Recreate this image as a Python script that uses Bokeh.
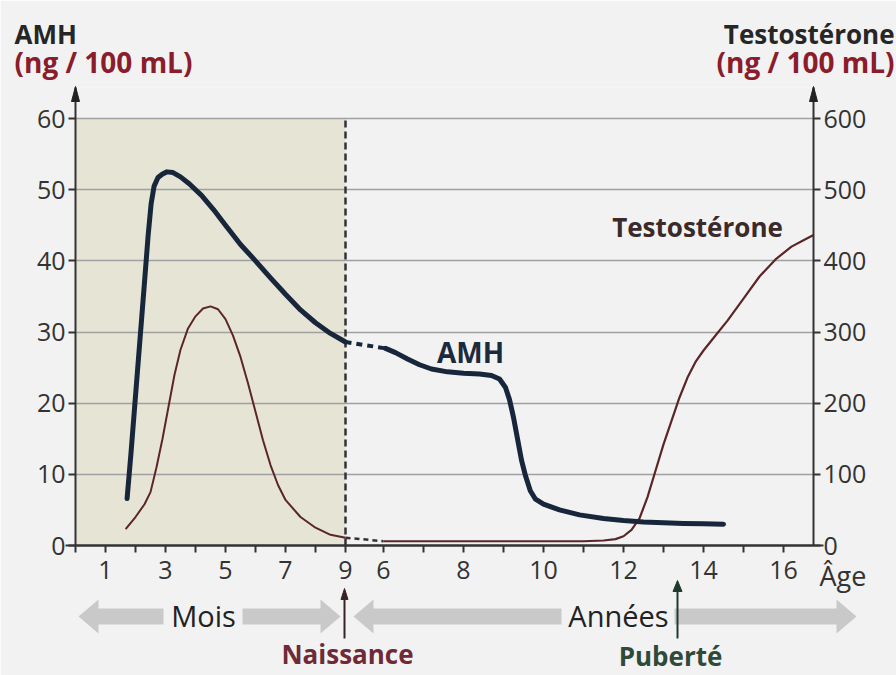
from bokeh.plotting import figure
from bokeh.models import LinearAxis, Range1d, FixedTicker, BoxAnnotation, Grid
from bokeh.core.properties import value
from bokeh.embed import file_html
from bokeh.resources import INLINE

# ---------------- data ----------------
# AMH (ng/100 mL), first months of life
amh_m_age = [1.72, 1.85, 2.0, 2.15, 2.3, 2.42, 2.52, 2.62, 2.75, 2.9, 3.05, 3.25,
             3.5, 3.8, 4.2, 4.6, 5.0, 5.5, 6.0, 6.5, 7.0, 7.5, 8.0, 8.5, 9.0]
amh_m_val = [6.6, 13.0, 21.0, 29.0, 37.0, 43.5, 48.0, 50.5, 51.7, 52.2, 52.5, 52.4,
             51.8, 50.8, 49.2, 47.2, 45.0, 42.3, 40.0, 37.6, 35.3, 33.1, 31.3, 29.8, 28.6]
# Testosterone (ng/100 mL), first months
t_m_age = [1.67, 2.0, 2.3, 2.5, 2.7, 2.9, 3.1, 3.3, 3.5, 3.75, 4.0, 4.25, 4.5, 4.75,
           5.0, 5.25, 5.5, 5.75, 6.0, 6.25, 6.5, 6.75, 7.0, 7.5, 8.0, 8.5, 9.0]
t_m_val = [23, 40, 58, 75, 110, 150, 195, 240, 275, 305, 322, 333, 336, 332,
           318, 295, 265, 228, 188, 148, 113, 85, 64, 40, 25, 15, 11]
# AMH, years
amh_y_age = [6.05, 6.3, 6.6, 6.9, 7.2, 7.6, 8.0, 8.4, 8.7, 8.9, 9.05, 9.15, 9.25, 9.35,
             9.45, 9.55, 9.67, 9.8, 10.0, 10.4, 10.9, 11.5, 12.0, 12.5, 13.0, 13.5, 14.0, 14.5]
amh_y_val = [27.7, 27.1, 26.2, 25.4, 24.8, 24.4, 24.2, 24.1, 23.9, 23.4, 22.2, 20.5, 18.0, 15.0,
             12.0, 9.8, 7.7, 6.5, 5.8, 5.0, 4.3, 3.8, 3.5, 3.3, 3.2, 3.1, 3.05, 3.0]
# Testosterone, years
t_y_age = [6.0, 7.0, 8.0, 9.0, 10.0, 11.0, 11.5, 11.8, 12.0, 12.2, 12.4, 12.6, 12.8, 13.0,
           13.2, 13.4, 13.6, 13.8, 14.0, 14.3, 14.6, 15.0, 15.4, 15.8, 16.2, 16.5, 16.78]
t_y_val = [6, 6, 6, 6, 6, 6, 7, 9, 13, 22, 38, 68, 105, 142,
           175, 208, 236, 258, 274, 295, 316, 347, 378, 402, 420, 429, 437]

month_ticks = [0, 1, 2, 3, 4, 5, 6, 7, 8, 9]
month_labels = ["", "1", "", "3", "", "5", "", "7", "", "9"]
year_ticks = [6, 7, 8, 9, 10, 11, 12, 13, 14, 15, 16]
year_labels = ["6", "", "8", "", "10", "", "12", "", "14", "", "16"]
amh_ticks = [0, 10, 20, 30, 40, 50, 60]
t_ticks = [0, 100, 200, 300, 400, 500, 600]

# ------------- scale helpers (broken age axis: months then years) -------------
MPX = 30.0   # px per month
YPX = 40.0   # px per year
Y6 = 308.0   # position of 6 years
def xm(m):
    return m * MPX
def xy(y):
    return Y6 + (y - 6) * YPX
PXV = (545 - 118) / 60.0   # px per AMH unit
def py(pix):   # page pixel row -> AMH value
    return (545 - pix) / PXV
def px(pix):   # page pixel column -> x position
    return pix - 75

FONT = "Open Sans"
BG = "#f2f2f2"
XR = 738
YTOP = 458 / PXV

p = figure(width=896, height=675, output_backend="svg", toolbar_location=None,
           x_range=Range1d(0, XR), y_range=Range1d(0, YTOP),
           min_border_left=75, min_border_right=83, min_border_top=87,
           min_border_bottom=130, background_fill_color=BG, border_fill_color=BG,
           outline_line_color=None, x_axis_location=None, y_axis_location=None)
p.extra_y_ranges = {"T": Range1d(0, YTOP * 10)}
p.xgrid.visible = False
p.ygrid.visible = False

# shaded prenatal/neonatal region
p.add_layout(BoxAnnotation(left=xm(0), right=xm(9), bottom=0, top=60,
                           fill_color="#e6e4d5", fill_alpha=1, line_color=None,
                           level="image"))

# axes
xt = [xm(m) for m in month_ticks] + [xy(y) for y in year_ticks]
xl = month_labels + year_labels
xaxis = LinearAxis(ticker=FixedTicker(ticks=xt),
                   major_label_overrides={t: l for t, l in zip(xt, xl)})
yaxis = LinearAxis(ticker=FixedTicker(ticks=amh_ticks))
raxis = LinearAxis(ticker=FixedTicker(ticks=t_ticks), y_range_name="T")
for ax in (xaxis, yaxis, raxis):
    ax.axis_line_color = "#333333"
    ax.axis_line_width = 2
    ax.major_tick_line_color = "#333333"
    ax.major_tick_line_width = 2
    ax.major_tick_in = 0
    ax.major_tick_out = 7
    ax.minor_tick_line_color = None
    ax.major_label_text_font = FONT
    ax.major_label_text_font_size = "25px"
    ax.major_label_text_color = "#333333"
xaxis.major_label_standoff = 8
yaxis.major_label_standoff = 3
raxis.major_label_standoff = 3
p.add_layout(xaxis, "below")
p.add_layout(yaxis, "left")
p.add_layout(raxis, "right")

# grid lines (10..60)
p.add_layout(Grid(dimension=1, ticker=FixedTicker(ticks=amh_ticks[1:]),
                  grid_line_color="#a0a0a0", grid_line_width=1.6), "center")

OV = dict(level="overlay")

# x axis line overshoot and axis arrow heads
p.segment(x0=[px(65)], y0=[0], x1=[px(823)], y1=[0], line_color="#333333",
          line_width=2, **OV)
for xa in (0, XR):
    p.patch([xa - 4, xa, xa + 4], [py(101), py(86), py(101)],
            fill_color="#222222", line_color="#222222", **OV)

# birth dashed line
p.segment(x0=[xm(9)], y0=[0], x1=[xm(9)], y1=[60], line_color="#333333",
          line_width=2.5, line_dash="7 4")

# curves
AMH_C = "#17263a"
T_C = "#5a2628"
p.line([xm(a) for a in t_m_age], t_m_val, y_range_name="T", line_color=T_C, line_width=2)
p.line([xy(a) for a in t_y_age], t_y_val, y_range_name="T", line_color=T_C, line_width=2.2)
p.line([xm(t_m_age[-1]), xy(t_y_age[0])], [t_m_val[-1], t_y_val[0]], y_range_name="T",
       line_color="#333333", line_width=2.5, line_dash="5 4")
p.line([xm(a) for a in amh_m_age], amh_m_val, line_color=AMH_C, line_width=5,
       line_join="round", line_cap="round")
p.line([xy(a) for a in amh_y_age], amh_y_val, line_color=AMH_C, line_width=5,
       line_join="round", line_cap="round")
p.line([xm(amh_m_age[-1]), xy(amh_y_age[0])], [amh_m_val[-1], amh_y_val[0]],
       line_color=AMH_C, line_width=4, line_dash="6 5")

def txt(xp, yp, s, size, color, bold=False, align="center"):
    p.text(x=[px(xp)], y=[py(yp)], text=[s], text_font=value(FONT),
           text_font_size=size, text_font_style="bold" if bold else "normal",
           text_color=color, text_align=align, text_baseline="middle", **OV)

# in-plot labels
txt(470, 351, "AMH", "28px", "#1b2a3c", bold=True)
txt(697, 226, "Testostérone", "26px", "#3a2a2a", bold=True)

# axis titles
txt(14, 33, "AMH", "26px", "#262626", bold=True, align="left")
txt(14, 61, "(ng / 100 mL)", "28px", "#8a1c2c", bold=True, align="left")
txt(894, 33, "Testostérone", "26px", "#262626", bold=True, align="right")
txt(894, 61, "(ng / 100 mL)", "28px", "#8a1c2c", bold=True, align="right")
txt(819, 575, "Âge", "27px", "#333333", align="left")

# period arrows under the axis (split where the label sits)
GR = "#c9c9c9"
YB = 616
def band(x0, g0, g1, x1):
    hl, hh, bh = 20, 17, 8
    p.patch([px(x0), px(x0 + hl), px(x0 + hl), px(g0), px(g0), px(x0 + hl), px(x0 + hl)],
            [py(YB), py(YB - hh), py(YB - bh), py(YB - bh), py(YB + bh), py(YB + bh), py(YB + hh)],
            fill_color=GR, line_color=None, **OV)
    p.patch([px(x1), px(x1 - hl), px(x1 - hl), px(g1), px(g1), px(x1 - hl), px(x1 - hl)],
            [py(YB), py(YB - hh), py(YB - bh), py(YB - bh), py(YB + bh), py(YB + bh), py(YB + hh)],
            fill_color=GR, line_color=None, **OV)
band(78, 163, 242, 340)
band(353, 561, 674, 856)
txt(203, 615, "Mois", "29px", "#222222")
txt(618, 615, "Années", "29px", "#222222")

# birth and puberty markers
def marker(xp, y0, y1, color, hw):
    p.segment(x0=[px(xp)], y0=[py(y0)], x1=[px(xp)], y1=[py(y1 + 8)],
              line_color=color, line_width=2, **OV)
    p.patch([px(xp - hw), px(xp), px(xp + hw)], [py(y1 + 11), py(y1), py(y1 + 11)],
            fill_color=color, line_color=color, **OV)
marker(344, 638, 588, "#3a2226", 3.5)
txt(347, 653, "Naissance", "26px", "#6e2a36", bold=True)
marker(677, 638, 580, "#1f3a2c", 4.5)
txt(670, 655, "Puberté", "26px", "#2e4a3a", bold=True)

open("out.html", "w").write(file_html(p, INLINE))
